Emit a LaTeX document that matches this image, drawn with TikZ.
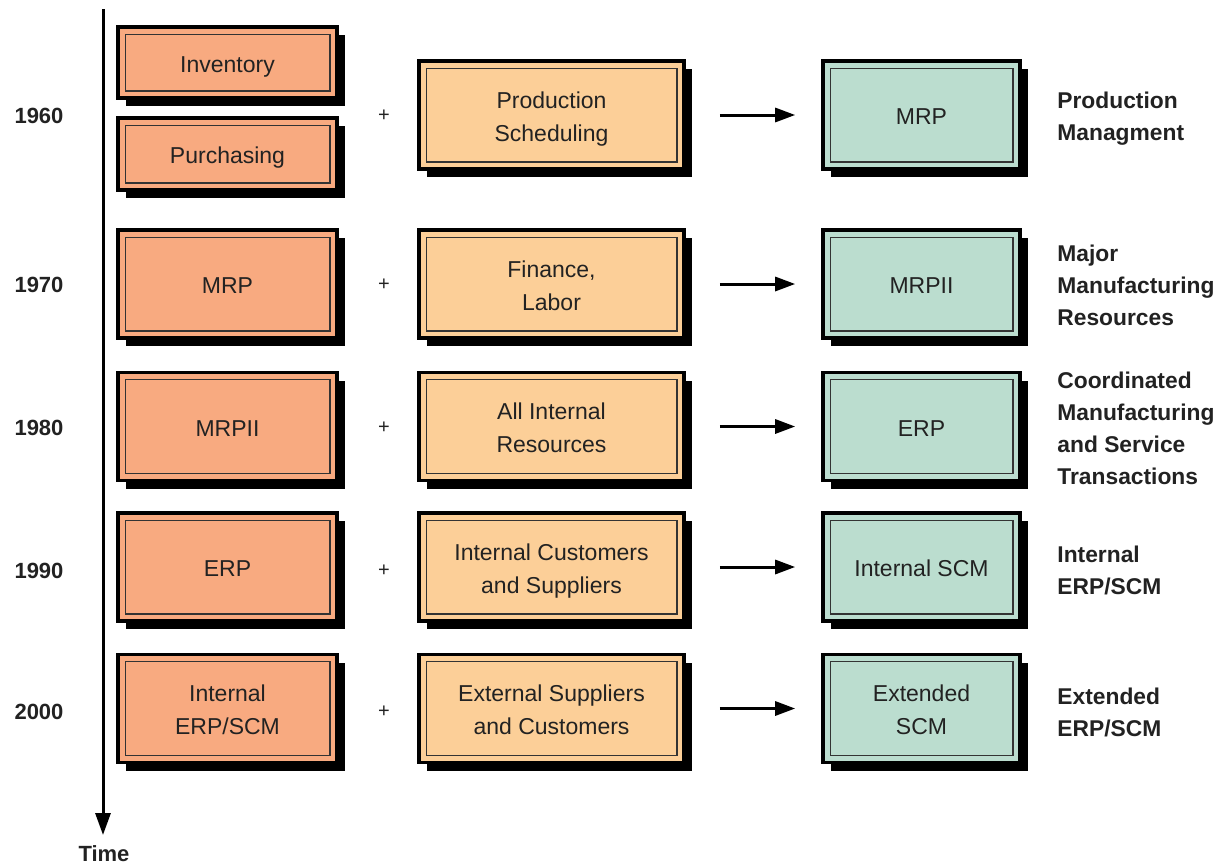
\documentclass[tikz,border=0pt]{standalone}
\usepackage{fontspec}
\setmainfont{Liberation Sans}
\usetikzlibrary{arrows.meta,shadows}
\definecolor{colA}{RGB}{248,170,128}
\definecolor{colB}{RGB}{252,207,152}
\definecolor{colC}{RGB}{187,221,207}
\definecolor{txt}{RGB}{34,34,34}
\newcommand{\bxt}[1]{\raisebox{-1.6pt}[\height][\depth]{\begin{tabular}{@{}c@{}}#1\end{tabular}}}
\tikzset{
  box/.style={draw=black, line width=1.8pt, minimum height=54pt, inner sep=0pt,
    text=txt, font=\fontsize{11.5}{16.5}\selectfont,
    general shadow={fill=black, shadow xshift=4pt, shadow yshift=-4pt},
    path picture={\draw[line width=0.7pt, draw=black!80]
      ([shift={(3.6pt,-3.6pt)}]path picture bounding box.north west) rectangle
      ([shift={(-3.6pt,3.6pt)}]path picture bounding box.south east);}},
  boxA/.style={box, fill=colA, minimum width=109.5pt},
  boxB/.style={box, fill=colB, minimum width=132.5pt},
  boxC/.style={box, fill=colC, minimum width=98.5pt},
  year/.style={font=\bfseries\fontsize{11}{15}\selectfont, text=txt},
  plus/.style={font=\fontsize{10}{12}\selectfont, text=txt},
  lbl/.style={anchor=west, align=left, inner sep=0pt, text=txt,
    font=\bfseries\fontsize{11.4}{16}\selectfont},
  flow/.style={line width=1.5pt, -{Triangle[length=10pt,width=7pt]},
    shorten <=17pt, shorten >=13pt},
  tline/.style={line width=1.5pt, -{Triangle[length=11pt,width=7.5pt]}}
}
\begin{document}
\begin{tikzpicture}[x=0.5pt,y=-0.5pt]
\useasboundingbox (0,0) rectangle (1218,867);
% timeline
\coordinate (tTop) at (103,9);
\coordinate (tEnd) at (103,835);
\draw[tline] (tTop) -- (tEnd);
\node[year, inner sep=1pt] (time) at (104,854) {Time};
% years
\node[year] (y1) at (39,116) {1960};
\node[year] (y2) at (39,285) {1970};
\node[year] (y3) at (39,428) {1980};
\node[year] (y4) at (39,571) {1990};
\node[year] (y5) at (39,712) {2000};
% column A
\node[boxA, minimum height=35.5pt] (a0) at (227.5,62.5) {\bxt{Inventory}};
\node[boxA, minimum height=36pt] (a1) at (227.5,154) {\bxt{Purchasing}};
\node[boxA] (a2) at (227.5,284) {\bxt{MRP}};
\node[boxA] (a3) at (227.5,426.5) {\bxt{MRPII}};
\node[boxA] (a4) at (227.5,567) {\bxt{ERP}};
\node[boxA] (a5) at (227.5,708.5) {\bxt{Internal\\ERP/SCM}};
% plus signs
\node[plus] (p1) at (384,116) {+};
\node[plus] (p2) at (384,285) {+};
\node[plus] (p3) at (384,428) {+};
\node[plus] (p4) at (384,571) {+};
\node[plus] (p5) at (384,712) {+};
% column B
\node[boxB] (b1) at (551.5,115) {\bxt{Production\\Scheduling}};
\node[boxB] (b2) at (551.5,284) {\bxt{Finance,\\Labor}};
\node[boxB] (b3) at (551.5,426.5) {\bxt{All Internal\\Resources}};
\node[boxB] (b4) at (551.5,567) {\bxt{Internal Customers\\and Suppliers}};
\node[boxB] (b5) at (551.5,708.5) {\bxt{External Suppliers\\and Customers}};
% column C
\node[boxC] (c1) at (921.5,115) {\bxt{MRP}};
\node[boxC] (c2) at (921.5,284) {\bxt{MRPII}};
\node[boxC] (c3) at (921.5,426.5) {\bxt{ERP}};
\node[boxC] (c4) at (921.5,567) {\bxt{Internal SCM}};
\node[boxC] (c5) at (921.5,708.5) {\bxt{Extended\\SCM}};
% arrows
\foreach \i in {1,...,5} \draw[flow] (b\i.east) -- (c\i.west);
% labels
\node[lbl] (l1) at (1057,119) {Production\\Managment};
\node[lbl] (l2) at (1057,285) {Major\\Manufacturing\\Resources};
\node[lbl] (l3) at (1057,428) {Coordinated\\Manufacturing\\and Service\\Transactions};
\node[lbl] (l4) at (1057,570) {Internal\\ERP/SCM};
\node[lbl] (l5) at (1057,712) {Extended\\ERP/SCM};
\end{tikzpicture}
\end{document}
